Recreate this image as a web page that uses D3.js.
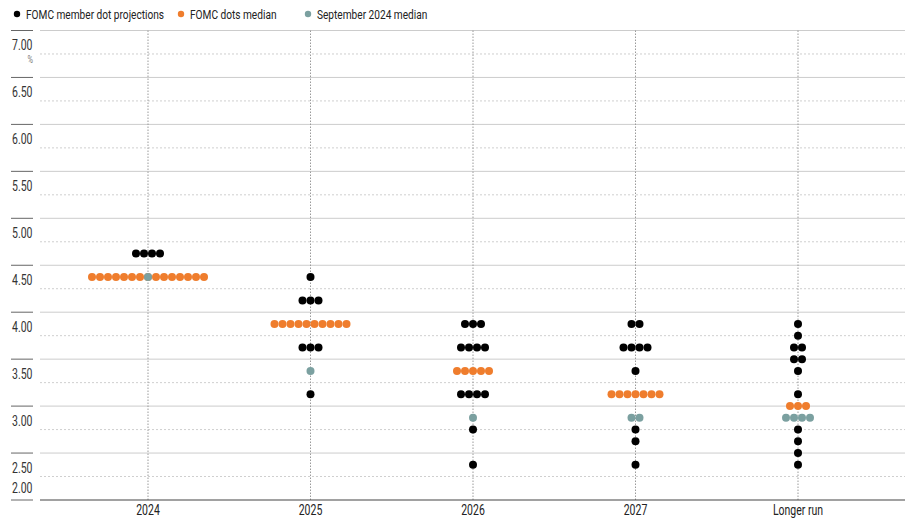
<!DOCTYPE html>
<html>
<head>
<meta charset="utf-8">
<script src="https://cdn.jsdelivr.net/npm/d3@7"></script>
<style>
  html, body { margin: 0; padding: 0; background: #fff; }
  svg { display: block; font-family: "Roboto", "Liberation Sans", sans-serif; }
</style>
</head>
<body>
<svg id="chart" width="908" height="525"></svg>
<script>
// ---- Data ----
const categories = ["2024", "2025", "2026", "2027", "Longer run"];

// FOMC member dot projections: [category, rate, number of dots]
const memberDots = [
  ["2024", 4.625, 4],
  ["2025", 4.375, 1], ["2025", 4.125, 3], ["2025", 3.625, 3], ["2025", 3.125, 1],
  ["2026", 3.875, 3], ["2026", 3.625, 4], ["2026", 3.125, 4], ["2026", 2.75, 1], ["2026", 2.375, 1],
  ["2027", 3.875, 2], ["2027", 3.625, 4], ["2027", 3.375, 1], ["2027", 2.75, 1], ["2027", 2.625, 1], ["2027", 2.375, 1],
  ["Longer run", 3.875, 1], ["Longer run", 3.75, 1], ["Longer run", 3.625, 2], ["Longer run", 3.5, 2],
  ["Longer run", 3.375, 1], ["Longer run", 3.125, 1], ["Longer run", 2.75, 1], ["Longer run", 2.625, 1],
  ["Longer run", 2.5, 1], ["Longer run", 2.375, 1]
];

// FOMC dots median
const medianDots = [
  ["2024", 4.375, 15],
  ["2025", 3.875, 10],
  ["2026", 3.375, 5],
  ["2027", 3.125, 7],
  ["Longer run", 3.0, 3]
];

// September 2024 median
const septMedianDots = [
  ["2024", 4.375, 1],
  ["2025", 3.375, 1],
  ["2026", 2.875, 1],
  ["2027", 2.875, 2],
  ["Longer run", 2.875, 4]
];

const yTickValues = [7.0, 6.5, 6.0, 5.5, 5.0, 4.5, 4.0, 3.5, 3.0, 2.5, 2.0];
const yTickLabels = ["7.00", "6.50", "6.00", "5.50", "5.00", "4.50", "4.00", "3.50", "3.00", "2.50", "2.00"];
const yMinorValues = [6.75, 6.25, 5.75, 5.25, 4.75, 4.25, 3.75, 3.25, 2.75, 2.25];

const legendItems = ["FOMC member dot projections", "FOMC dots median", "September 2024 median"];

// ---- Chart ----
const COLORS = { member: "#000000", median: "#ef7d2d", sept: "#7ba0a0" };
const svg = d3.select("#chart");
const SX = 0.75; // horizontal condensing of text

const x = d3.scalePoint().domain(categories).range([148, 798]);
const y = d3.scaleLinear().domain([2, 7]).range([500, 30.5]);
const gridLeft = 40, gridRight = 905;
const dotR = 4, dotStep = 8;

function condensed(sel, fx, fy) {
  sel.attr("transform", (d, i) => `translate(${fx(d, i)},${fy(d, i)}) scale(${SX},1)`);
}

// minor dashed gridlines
svg.append("g").selectAll("line").data(yMinorValues).join("line")
  .attr("x1", gridLeft).attr("x2", gridRight)
  .attr("y1", d => y(d)).attr("y2", d => y(d))
  .attr("stroke", "#cfcfcf").attr("stroke-width", 1)
  .attr("stroke-dasharray", "2,2");

// major solid gridlines
svg.append("g").selectAll("line").data(yTickValues.filter(v => v > 2)).join("line")
  .attr("x1", gridLeft).attr("x2", gridRight)
  .attr("y1", d => y(d)).attr("y2", d => y(d))
  .attr("stroke", "#cccccc").attr("stroke-width", 1);

// left tick dashes
svg.append("g").selectAll("line").data(yTickValues).join("line")
  .attr("x1", 11).attr("x2", 33)
  .attr("y1", d => y(d)).attr("y2", d => y(d))
  .attr("stroke", "#666").attr("stroke-width", 1);

// vertical category lines
svg.append("g").selectAll("line").data(categories).join("line")
  .attr("x1", d => x(d)).attr("x2", d => x(d))
  .attr("y1", y(7)).attr("y2", y(2))
  .attr("stroke", "#9a9a9a").attr("stroke-width", 1)
  .attr("stroke-dasharray", "1.5,1.5");

// bottom axis line
svg.append("line")
  .attr("x1", gridLeft).attr("x2", gridRight)
  .attr("y1", y(2)).attr("y2", y(2))
  .attr("stroke", "#444").attr("stroke-width", 1.2);

// y labels
svg.append("g").selectAll("text").data(yTickValues).join("text")
  .attr("font-size", 14).attr("fill", "#333")
  .call(condensed, () => 12, d => d > 2 ? y(d) + 19.5 : y(d) - 7)
  .text((d, i) => yTickLabels[i]);

svg.append("text")
  .attr("text-anchor", "end")
  .attr("font-size", 10).attr("fill", "#777")
  .call(condensed, () => 33, () => y(7) + 32.5)
  .text("%");

// x labels
svg.append("g").selectAll("text").data(categories).join("text")
  .attr("text-anchor", "middle")
  .attr("font-size", 14).attr("fill", "#222")
  .call(condensed, d => x(d), () => y(2) + 15)
  .text(d => d);

// dots
function expand(rows) {
  const out = [];
  rows.forEach(([cat, val, n]) => {
    for (let i = 0; i < n; i++) out.push({ cat, val, off: (i - (n - 1) / 2) * dotStep });
  });
  return out;
}
function drawDots(rows, color) {
  svg.append("g").selectAll("circle").data(expand(rows)).join("circle")
    .attr("cx", d => x(d.cat) + d.off)
    .attr("cy", d => y(d.val))
    .attr("r", dotR)
    .attr("fill", color);
}
drawDots(memberDots, COLORS.member);
drawDots(medianDots, COLORS.median);
drawDots(septMedianDots, COLORS.sept);

// legend
const legendX = [17, 181, 308];
const legendColors = [COLORS.member, COLORS.median, COLORS.sept];
const lg = svg.append("g");
legendItems.forEach((t, i) => {
  lg.append("circle").attr("cx", legendX[i]).attr("cy", 14).attr("r", 3.2).attr("fill", legendColors[i]);
  lg.append("text")
    .attr("font-size", 13.5).attr("fill", "#222")
    .attr("transform", `translate(${legendX[i] + 9},18.5) scale(${SX},1)`)
    .text(t);
});
</script>
</body>
</html>
